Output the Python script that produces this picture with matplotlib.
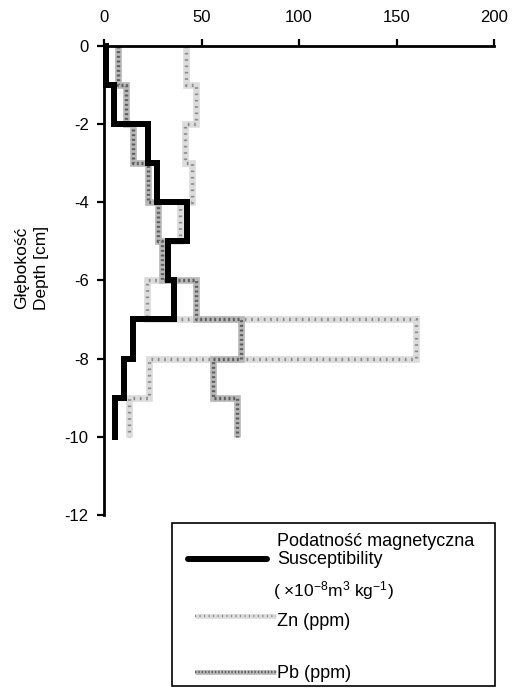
import numpy as np
import matplotlib
matplotlib.use("Agg")
import matplotlib.pyplot as plt
from matplotlib.lines import Line2D
from matplotlib.patches import Rectangle

plt.rcParams['font.family'] = ['Liberation Sans', 'DejaVu Sans']
plt.rcParams['mathtext.fontset'] = 'custom'
plt.rcParams['mathtext.rm'] = 'Liberation Sans'
plt.rcParams['mathtext.it'] = 'Liberation Sans'

# glebokosc (cm), granice warstw co 1 cm
depth_edges = [0, -1, -2, -3, -4, -5, -6, -7, -8, -9, -10]
# podatnosc magnetyczna (x10^-8 m3/kg)
susc = [1, 5, 22.5, 27, 42.5, 33, 36, 15, 10, 5.5]
# Zn (ppm)
zn = [42, 47, 41.5, 45, 39, 31, 22, 160, 23, 13]
# Pb (ppm)
pb = [7, 11.5, 15, 22.5, 27.5, 29.5, 47, 70, 56, 68]

x_ticks = [0, 50, 100, 150, 200]
y_ticks = [0, -2, -4, -6, -8, -10, -12]

W, H = 518, 691


def steps(vals, edges):
    # profil schodkowy: kazda wartosc stala w obrebie warstwy
    y = np.repeat(edges, 2)[1:-1]
    x = np.repeat(vals, 2)
    return x, y


def dotted_line(target, x, y, base, dots, lw, transform=None, dash=(0.6, 1.2)):
    kw = {} if transform is None else {'transform': transform}
    l1 = Line2D(x, y, color=base, lw=lw, solid_capstyle='butt',
                solid_joinstyle='miter', clip_on=False, **kw)
    l2 = Line2D(x, y, color=dots, lw=lw * 0.5, dashes=dash,
                dash_capstyle='butt', clip_on=False, **kw)
    for l in (l1, l2):
        if transform is None:
            target.add_line(l)
        else:
            target.add_artist(l)


fig = plt.figure(figsize=(W / 100, H / 100), dpi=100)
ax = fig.add_axes([104 / W, 1 - 515 / H, 390 / W, 469.3 / H])

ZN_BASE, ZN_DOT = '#dcdcdc', '#8c8c8c'
PB_BASE, PB_DOT = '#b8b8b8', '#5e5e5e'

x, y = steps(zn, depth_edges)
dotted_line(ax, x, y, ZN_BASE, ZN_DOT, 4.8, dash=(0.5, 1.4))
x, y = steps(pb, depth_edges)
dotted_line(ax, x, y, PB_BASE, PB_DOT, 4.8, dash=(0.6, 0.8))
x, y = steps(susc, depth_edges)
ax.plot(x, y, color='black', lw=4.3, solid_joinstyle='miter', clip_on=False)

ax.set_xlim(0, 200)
ax.set_ylim(-12, 0)
ax.xaxis.tick_top()
ax.set_xticks(x_ticks)
ax.set_yticks(y_ticks)
ax.set_yticklabels([str(v) for v in y_ticks])
for s in ['bottom', 'right']:
    ax.spines[s].set_visible(False)
for s in ['top', 'left']:
    ax.spines[s].set_linewidth(2)
ax.tick_params(axis='x', direction='out', length=5, width=1.6, pad=10, labelsize=12)
ax.tick_params(axis='y', direction='out', length=5, width=1.6, pad=6, labelsize=12)

fig.text(32 / W, 1 - 268 / H, 'Głębokość\nDepth [cm]', rotation=90,
         ha='center', va='center', multialignment='center',
         fontsize=12.5, linespacing=1.4)

# legenda
fx = lambda px: px / W
fy = lambda py: 1 - py / H
fig.add_artist(Rectangle((fx(172), fy(686)), fx(495) - fx(172), fy(523) - fy(686),
                         transform=fig.transFigure, fill=False, lw=1.2,
                         edgecolor='black'))
fig.add_artist(Line2D([fx(188), fx(267)], [fy(559), fy(559)], color='black',
                      lw=4.3, solid_capstyle='round', transform=fig.transFigure))
dotted_line(fig, [fx(195), fx(276)], [fy(616), fy(616)], ZN_BASE, ZN_DOT, 3.4,
            transform=fig.transFigure, dash=(0.5, 1.4))
dotted_line(fig, [fx(195), fx(276)], [fy(672), fy(672)], PB_BASE, PB_DOT, 3.4,
            transform=fig.transFigure, dash=(0.6, 0.8))

txt = dict(fontsize=13, ha='left', va='center')
fig.text(fx(277), fy(542), 'Podatność magnetyczna', **txt)
fig.text(fx(277), fy(560), 'Susceptibility', **txt)
fig.text(fx(273), fy(591), r'( $\times$10$^{-8}$m$^{3}$ kg$^{-1}$)', fontsize=12.5,
         ha='left', va='center')
fig.text(fx(277), fy(622), 'Zn (ppm)', **txt)
fig.text(fx(277), fy(674), 'Pb (ppm)', **txt)

fig.savefig('out.png', dpi=100)
